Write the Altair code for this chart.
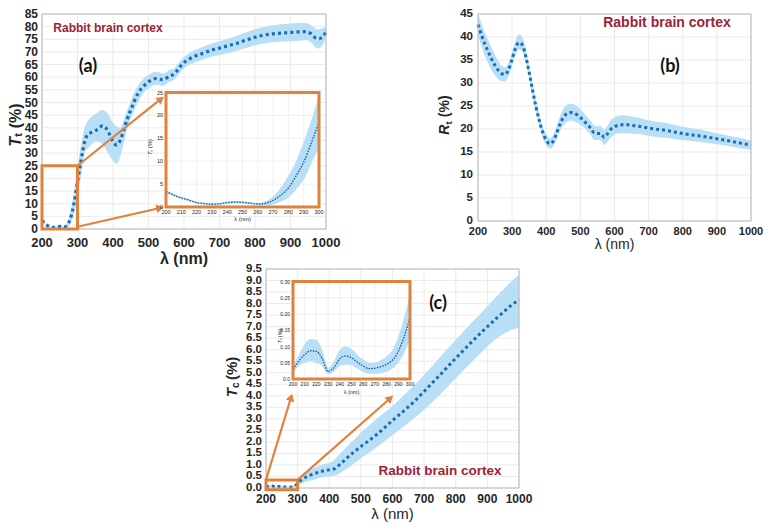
import math
import altair as alt
import pandas as pd

# ---------------- data ----------------
# (a) total transmittance T_t (%)
ta_wl = [200, 210, 220, 230, 240, 250, 260, 270, 280, 290, 300, 310, 320, 330, 340, 350, 360, 370, 380, 390,
         400, 410, 420, 430, 440, 450, 460, 470, 480, 490, 500, 510, 520, 530, 540, 550, 560, 570, 580, 590,
         600, 610, 620, 640, 660, 680, 700, 720, 740, 760, 780, 800, 820, 840, 860, 880, 900, 920, 940, 950,
         960, 970, 980, 990, 1000]
ta_mean = [3.4, 2.0, 0.95, 0.6, 0.95, 1.0, 0.65, 1.4, 4.2, 10.0, 18.6, 27.0, 34.5, 37.5, 38.2, 38.8, 39.8, 40.8, 40.0, 37.5,
           34.5, 33.2, 35.0, 39.0, 43.5, 47.0, 50.5, 53.5, 55.5, 57.0, 58.2, 59.0, 59.5, 59.4, 59.0, 59.6, 60.6, 61.0, 62.5, 64.3,
           65.8, 66.8, 67.6, 68.8, 69.8, 70.8, 71.5, 72.3, 73.0, 74.0, 74.9, 75.8, 76.5, 77.0, 77.3, 77.5, 77.7, 77.9, 78.0, 77.8,
           77.0, 75.6, 75.2, 76.0, 77.8]
ta_lo = [3.0, 1.7, 0.7, 0.4, 0.7, 0.8, 0.4, 0.6, 2.0, 6.0, 13.0, 21.0, 30.0, 32.0, 33.5, 34.5, 34.5, 33.5, 31.5, 29.0,
         27.0, 25.8, 28.5, 34.0, 39.5, 43.5, 47.0, 50.0, 52.5, 54.5, 55.5, 56.5, 57.0, 57.0, 56.5, 57.3, 58.3, 58.8, 60.3, 62.0,
         63.5, 64.5, 65.2, 66.3, 67.3, 68.2, 68.8, 69.5, 70.1, 71.0, 71.8, 72.6, 73.2, 73.6, 73.9, 74.0, 74.2, 74.4, 74.6, 74.5,
         73.5, 71.8, 71.4, 72.5, 76.0]
ta_hi = [3.8, 2.3, 1.2, 0.8, 1.2, 1.3, 0.9, 2.2, 6.8, 14.2, 24.5, 33.0, 40.0, 43.0, 44.5, 45.5, 46.5, 47.0, 46.5, 44.5,
         42.0, 40.5, 40.0, 43.0, 47.0, 50.5, 54.0, 56.5, 58.5, 60.0, 61.0, 61.8, 62.2, 62.0, 61.5, 62.0, 63.0, 63.3, 64.8, 66.5,
         68.0, 69.0, 70.0, 71.3, 72.3, 73.4, 74.2, 75.1, 75.9, 77.0, 78.0, 79.0, 79.8, 80.4, 80.7, 81.0, 81.2, 81.4, 81.4, 81.1,
         80.4, 79.3, 78.9, 79.5, 79.6]

# (b) total reflectance R_t (%)
rb_wl = [200, 210, 220, 230, 240, 250, 260, 270, 280, 290, 300, 310, 320, 330, 340, 350, 360, 370, 380, 390,
         400, 410, 420, 430, 440, 450, 460, 470, 480, 490, 500, 510, 520, 530, 540, 550, 560, 570, 580, 590,
         600, 610, 620, 640, 660, 680, 700, 750, 800, 850, 900, 950, 1000]
rb_mean = [42.7, 40.5, 38.5, 36.8, 35.2, 33.8, 32.7, 32.0, 31.9, 33.0, 35.2, 37.6, 38.8, 38.3, 35.8, 32.3, 28.4, 24.8, 21.7, 19.2,
           17.6, 16.8, 17.3, 19.0, 21.0, 22.5, 23.3, 23.6, 23.5, 23.1, 22.5, 21.8, 21.0, 20.2, 19.2, 19.0, 19.0, 18.2, 19.0, 20.0,
           20.5, 20.8, 20.9, 20.9, 20.7, 20.5, 20.2, 19.7, 19.0, 18.5, 17.9, 17.2, 16.5]
rb_lo = [40.3, 38.0, 36.0, 34.2, 32.8, 31.6, 30.8, 30.4, 30.4, 31.6, 33.8, 36.2, 37.3, 36.8, 34.4, 31.0, 27.2, 23.6, 20.6, 18.0,
         16.4, 15.7, 16.2, 17.7, 19.5, 20.8, 21.5, 21.8, 21.7, 21.4, 20.9, 20.3, 19.6, 18.8, 17.6, 17.6, 17.5, 16.6, 17.3, 18.2,
         18.8, 19.0, 19.1, 19.1, 18.9, 18.8, 18.5, 18.1, 17.6, 17.2, 16.7, 16.1, 15.5]
rb_hi = [45.2, 43.0, 41.0, 39.3, 37.6, 36.1, 34.7, 33.7, 33.4, 34.5, 36.7, 39.2, 40.6, 40.0, 37.4, 33.7, 29.7, 26.1, 23.0, 20.5,
         18.9, 18.0, 18.6, 20.5, 22.7, 24.4, 25.2, 25.5, 25.4, 25.0, 24.3, 23.5, 22.6, 21.8, 20.8, 20.6, 20.6, 19.8, 20.8, 22.0,
         22.5, 22.8, 23.0, 22.9, 22.6, 22.3, 21.9, 21.3, 20.5, 19.9, 19.1, 18.3, 17.5]

# (c) collimated transmittance T_c (%)
tc_wl = [200, 210, 220, 230, 240, 250, 260, 270, 280, 290, 300, 310, 320, 330, 340, 350, 360, 370, 380, 390,
         400, 410, 420, 430, 440, 450, 460, 470, 480, 490, 500, 525, 550, 575, 600, 625, 650, 675, 700, 725,
         750, 775, 800, 825, 850, 875, 900, 925, 950, 975, 1000]
tc_mean = [0.03, 0.075, 0.085, 0.023, 0.062, 0.065, 0.040, 0.033, 0.045, 0.085, 0.19, 0.33, 0.42, 0.50, 0.56, 0.61, 0.66, 0.71, 0.74, 0.77,
           0.79, 0.81, 0.86, 0.98, 1.10, 1.22, 1.35, 1.47, 1.58, 1.69, 1.80, 2.05, 2.32, 2.62, 2.93, 3.22, 3.52, 3.84, 4.19, 4.55,
           4.90, 5.27, 5.63, 5.98, 6.33, 6.67, 7.00, 7.32, 7.62, 7.92, 8.17]
tc_lo = [0.02, 0.05, 0.05, 0.015, 0.04, 0.04, 0.02, 0.015, 0.02, 0.05, 0.12, 0.18, 0.23, 0.28, 0.32, 0.36, 0.40, 0.44, 0.47, 0.50,
         0.50, 0.52, 0.55, 0.62, 0.70, 0.79, 0.88, 0.97, 1.08, 1.18, 1.29, 1.52, 1.77, 2.03, 2.30, 2.56, 2.82, 3.10, 3.39, 3.72,
         4.05, 4.40, 4.76, 5.11, 5.45, 5.80, 6.14, 6.45, 6.68, 6.85, 6.94]
tc_hi = [0.04, 0.11, 0.12, 0.035, 0.09, 0.09, 0.06, 0.05, 0.07, 0.13, 0.26, 0.48, 0.61, 0.72, 0.80, 0.86, 0.92, 0.98, 1.02, 1.05,
         1.08, 1.15, 1.28, 1.42, 1.56, 1.70, 1.84, 1.98, 2.12, 2.26, 2.40, 2.70, 3.00, 3.27, 3.55, 3.88, 4.22, 4.56, 4.90, 5.28,
         5.67, 6.05, 6.43, 6.80, 7.17, 7.52, 7.88, 8.25, 8.60, 8.95, 9.25]

# insets (200-300 nm zoom)
in_wl = [200, 205, 210, 215, 220, 225, 230, 235, 240, 245, 250, 255, 260, 265, 270, 275, 280, 285, 290, 295, 300]
ia_mean = [3.4, 2.6, 2.0, 1.5, 0.95, 0.75, 0.6, 0.7, 0.95, 1.05, 1.0, 0.85, 0.65, 0.8, 1.45, 2.6, 4.15, 6.8, 9.8, 14.0, 18.6]
ia_lo = [3.1, 2.35, 1.75, 1.25, 0.75, 0.55, 0.4, 0.5, 0.7, 0.8, 0.75, 0.6, 0.45, 0.35, 0.55, 1.2, 2.0, 3.8, 6.0, 9.5, 13.0]
ia_hi = [3.7, 2.85, 2.25, 1.75, 1.15, 0.95, 0.8, 0.9, 1.2, 1.3, 1.25, 1.1, 0.85, 1.25, 2.3, 4.2, 6.8, 10.0, 14.2, 19.0, 24.5]
ic_mean = [0.030, 0.055, 0.075, 0.087, 0.085, 0.062, 0.023, 0.035, 0.062, 0.071, 0.065, 0.052, 0.040, 0.032, 0.033, 0.038,
           0.045, 0.058, 0.085, 0.13, 0.19]
ic_lo = [0.022, 0.04, 0.05, 0.055, 0.05, 0.04, 0.015, 0.022, 0.04, 0.045, 0.042, 0.032, 0.022, 0.016, 0.016, 0.018,
         0.022, 0.032, 0.05, 0.08, 0.12]
ic_hi = [0.04, 0.075, 0.108, 0.123, 0.12, 0.09, 0.035, 0.055, 0.09, 0.10, 0.092, 0.075, 0.06, 0.05, 0.05, 0.058,
         0.07, 0.09, 0.13, 0.19, 0.26]

x_ticks = [200, 300, 400, 500, 600, 700, 800, 900, 1000]
ya_ticks = list(range(0, 86, 5))
yb_ticks = list(range(0, 46, 5))
yc_ticks = [round(i * 0.5, 1) for i in range(20)]
yc_labels = ["%.1f" % v for v in yc_ticks]
in_x_ticks = list(range(200, 301, 10))
ia_y_ticks = [0, 5, 10, 15, 20, 25]
ic_y_ticks = [0, 0.05, 0.10, 0.15, 0.20, 0.25, 0.30]
ic_y_labels = ["0.0", "0.05", "0.10", "0.15", "0.20", "0.25", "0.30"]

# ---------------- style ----------------
W, H = 755, 514
BAND = "#b8dff6"
LINE = "#176db6"
GRID = "#e6e6e6"
FRAME = "#b8b8b8"
ORANGE = "#e0823d"
RED = "#9b2335"
TXT = "#262626"
FONT = "Liberation Sans"

# plot-area geometry in canvas pixels: (domain, range)
GA = dict(xd=[200, 1000], xr=[34, 318], yd=[0, 85], yr=[221, 6])
GB = dict(xd=[200, 1000], xr=[470, 743], yd=[0, 45], yr=[213, 6])
GC = dict(xd=[200, 1000], xr=[258, 511], yd=[0, 9.5], yr=[480, 261])
GIA = dict(xd=[200, 300], xr=[158, 311], yd=[0, 25], yr=[199, 84.5])
GIC = dict(xd=[200, 300], xr=[285, 402], yd=[0, 0.30], yr=[371, 273.5])


def scales(g):
    xs = alt.Scale(domain=g["xd"], range=g["xr"], zero=False, nice=False)
    ys = alt.Scale(domain=g["yd"], range=g["yr"], zero=False, nice=False)
    return xs, ys


def lin(d, r, v):
    return r[0] + (v - d[0]) / (d[1] - d[0]) * (r[1] - r[0])


def inv(d, r, p):
    return d[0] + (p - r[0]) / (r[1] - r[0]) * (d[1] - d[0])


def ticklabels(g, xs, ys, xticks, xlabels, yticks, ylabels, xsize, ysize, xpad, ypad, weight):
    dx = pd.DataFrame({"v": xticks, "a": g["yd"][0], "lab": xlabels})
    dy = pd.DataFrame({"v": yticks, "a": g["xd"][0], "lab": ylabels})
    return [
        alt.Chart(dx).mark_text(align="center", baseline="top", dy=xpad, font=FONT, fontSize=xsize,
                                fontWeight=weight, color=TXT).encode(
            x=alt.X("v:Q", scale=xs, axis=None), y=alt.Y("a:Q", scale=ys, axis=None), text="lab:N"),
        alt.Chart(dy).mark_text(align="right", baseline="middle", dx=-ypad, font=FONT, fontSize=ysize,
                                fontWeight=weight, color=TXT).encode(
            x=alt.X("a:Q", scale=xs, axis=None), y=alt.Y("v:Q", scale=ys, axis=None), text="lab:N"),
    ]


def panel(g, wl, mean, lo, hi, xticks, yticks, labs, lw, dash, lcolor, gw, extra=(), inset=False):
    xs, ys = scales(g)
    df = pd.DataFrame({"x": wl, "y": mean, "lo": lo, "hi": hi})
    gx = pd.DataFrame({"v": xticks, "a": g["yd"][0], "b": g["yd"][1]})
    gy = pd.DataFrame({"v": yticks, "a": g["xd"][0], "b": g["xd"][1]})
    one = pd.DataFrame({"x0": [g["xd"][0]], "x1": [g["xd"][1]], "y0": [g["yd"][0]], "y1": [g["yd"][1]]})
    layers = []
    if inset:
        layers.append(alt.Chart(one).mark_rect(fill="white", stroke="white", strokeWidth=3).encode(
            x=alt.X("x0:Q", scale=xs, axis=None), x2="x1:Q",
            y=alt.Y("y0:Q", scale=ys, axis=None), y2="y1:Q"))
    layers.append(alt.Chart(gx).mark_rule(color=GRID, strokeWidth=gw).encode(
        x=alt.X("v:Q", scale=xs, axis=None), y=alt.Y("a:Q", scale=ys, axis=None), y2="b:Q"))
    layers.append(alt.Chart(gy).mark_rule(color=GRID, strokeWidth=gw).encode(
        y=alt.Y("v:Q", scale=ys, axis=None), x=alt.X("a:Q", scale=xs, axis=None), x2="b:Q"))
    layers.append(alt.Chart(df).mark_area(color=BAND, opacity=1, interpolate="monotone").encode(
        x=alt.X("x:Q", scale=xs, axis=None), y=alt.Y("lo:Q", scale=ys, axis=None), y2="hi:Q"))
    layers.append(alt.Chart(df).mark_line(color=lcolor, strokeWidth=lw, strokeDash=dash, strokeCap="butt",
                                          interpolate="monotone").encode(
        x=alt.X("x:Q", scale=xs, axis=None), y=alt.Y("y:Q", scale=ys, axis=None)))
    if inset:
        layers.append(alt.Chart(one).mark_rect(fillOpacity=0, stroke=ORANGE, strokeWidth=3).encode(
            x=alt.X("x0:Q", scale=xs, axis=None), x2="x1:Q",
            y=alt.Y("y0:Q", scale=ys, axis=None), y2="y1:Q"))
    else:
        layers.append(alt.Chart(one).mark_rect(fillOpacity=0, stroke=FRAME, strokeWidth=1).encode(
            x=alt.X("x0:Q", scale=xs, axis=None), x2="x1:Q",
            y=alt.Y("y0:Q", scale=ys, axis=None), y2="y1:Q"))
    layers.extend(ticklabels(g, xs, ys, **labs))
    for f in extra:
        layers.extend(f(xs, ys))
    return alt.layer(*layers)


def zoombox(g, x0, x1, y0, y1):
    def f(xs, ys):
        d = pd.DataFrame({"x0": [x0], "x1": [x1], "y0": [y0], "y1": [y1]})
        return [alt.Chart(d).mark_rect(fillOpacity=0, stroke=ORANGE, strokeWidth=3).encode(
            x=alt.X("x0:Q", scale=xs, axis=None), x2="x1:Q",
            y=alt.Y("y0:Q", scale=ys, axis=None), y2="y1:Q")]
    return f


def arrows(g, starts, tips, gt):
    """starts in data units of panel g; tips in data units of inset gt."""
    def f(xs, ys):
        lines, heads = [], []
        for (sx, sy), (tx, ty) in zip(starts, tips):
            p0 = (lin(g["xd"], g["xr"], sx), lin(g["yd"], g["yr"], sy))
            p1 = (lin(gt["xd"], gt["xr"], tx), lin(gt["yd"], gt["yr"], ty))
            dx, dy = p1[0] - p0[0], p1[1] - p0[1]
            L = math.hypot(dx, dy)
            ux, uy = dx / L, dy / L
            hx, hy = p1[0] - ux * 4.5, p1[1] - uy * 4.5
            ang = math.degrees(math.atan2(ux, -uy)) % 360
            hxd, hyd = inv(g["xd"], g["xr"], hx), inv(g["yd"], g["yr"], hy)
            lines.append({"x0": sx, "y0": sy, "x1": hxd, "y1": hyd})
            heads.append({"x": hxd, "y": hyd, "ang": ang})
        ld = pd.DataFrame(lines)
        hd = pd.DataFrame(heads)
        return [
            alt.Chart(ld).mark_rule(color=ORANGE, strokeWidth=2.2).encode(
                x=alt.X("x0:Q", scale=xs, axis=None), y=alt.Y("y0:Q", scale=ys, axis=None),
                x2="x1:Q", y2="y1:Q"),
            alt.Chart(hd).mark_point(shape="triangle-up", filled=True, color=ORANGE, opacity=1, size=75,
                                     strokeWidth=0).encode(
                x=alt.X("x:Q", scale=xs, axis=None), y=alt.Y("y:Q", scale=ys, axis=None),
                angle=alt.Angle("ang:Q", scale=None)),
        ]
    return f


def txt(s, x, y, size, color=TXT, weight="bold", font=FONT, angle=0, align="center",
        baseline="middle", style="normal"):
    return alt.Chart(alt.Data(values=[{}])).mark_text(
        text=s, fontSize=size, font=font, fontWeight=weight, color=color, angle=angle,
        align=align, baseline=baseline, fontStyle=style).encode(x=alt.value(x), y=alt.value(y))


def ytitle(main, sub, cx, cy, size, weight="bold", wmain=0.62, subshift=0.26):
    wT = wmain * size
    ss = 0.68 * size
    wsub = 0.36 * ss
    gap = 0.28 * size
    wp = 1.56 * size
    total = wT + wsub + gap + wp
    y0 = cy + total / 2
    return [
        txt(main, cx, y0, size, angle=270, align="left", style="italic", weight=weight),
        txt(sub, cx + subshift * size, y0 - wT, ss, angle=270, align="left", weight=weight),
        txt("(%)", cx, y0 - wT - wsub - gap, size, angle=270, align="left", weight=weight),
    ]


def xlab(g, s, dy, size, weight="bold"):
    cx = (g["xr"][0] + g["xr"][1]) / 2
    return txt(s, cx, g["yr"][0] + dy, size, weight=weight)


# ---------------- panels ----------------
pa = panel(GA, ta_wl, ta_mean, ta_lo, ta_hi, x_ticks, ya_ticks,
           dict(xticks=x_ticks, xlabels=[str(v) for v in x_ticks], yticks=ya_ticks,
                ylabels=[str(v) for v in ya_ticks], xsize=13, ysize=12, xpad=8, ypad=4, weight="bold"),
           3.2, [3, 3.2], LINE, 0.8,
           extra=[zoombox(GA, 200, 300, 0, 25),
                  arrows(GA, [(300, 25), (300, 0.9)], [(199, 24.2), (199, 0.0)], GIA)])
pb = panel(GB, rb_wl, rb_mean, rb_lo, rb_hi, x_ticks, yb_ticks,
           dict(xticks=x_ticks, xlabels=[str(v) for v in x_ticks], yticks=yb_ticks,
                ylabels=[str(v) for v in yb_ticks], xsize=11, ysize=11.5, xpad=5, ypad=5, weight="bold"),
           3.0, [3, 3], LINE, 0.8)
pc = panel(GC, tc_wl, tc_mean, tc_lo, tc_hi, x_ticks, yc_ticks,
           dict(xticks=x_ticks, xlabels=[str(v) for v in x_ticks], yticks=yc_ticks,
                ylabels=yc_labels, xsize=12, ysize=11.5, xpad=6, ypad=4, weight="bold"),
           3.0, [3, 3], LINE, 0.8,
           extra=[zoombox(GC, 200, 300, -0.08, 0.35),
                  arrows(GC, [(200, 0.35), (300, 0.35)], [(199.5, -0.043), (286, -0.05)], GIC)])

pia = panel(GIA, in_wl, ia_mean, ia_lo, ia_hi, in_x_ticks, ia_y_ticks,
            dict(xticks=in_x_ticks, xlabels=[str(v) for v in in_x_ticks], yticks=ia_y_ticks,
                 ylabels=[str(v) for v in ia_y_ticks], xsize=5.5, ysize=5.5, xpad=3, ypad=3, weight="normal"),
            1.3, [1.6, 1.2], "#1d5fa6", 0.6, inset=True)
pic = panel(GIC, in_wl, ic_mean, ic_lo, ic_hi, in_x_ticks, ic_y_ticks,
            dict(xticks=in_x_ticks, xlabels=[str(v) for v in in_x_ticks], yticks=ic_y_ticks,
                 ylabels=ic_y_labels, xsize=5, ysize=5, xpad=3, ypad=3, weight="normal"),
            1.3, [1.6, 1.2], "#1d5fa6", 0.6, inset=True)

texts = []
texts += ytitle("T", "t", 8, 117, 16, subshift=0.2)
texts += ytitle("R", "t", 437, 107, 14, wmain=0.72)
texts += ytitle("T", "c", 224, 369, 15)
texts += ytitle("T", "t", 142, 139, 6, weight="normal")
texts += ytitle("T", "c", 272, 328, 5.5, weight="normal")
texts += [
    xlab(GA, "λ (nm)", 29.5, 16),
    xlab(GB, "λ (nm)", 24, 14, weight="normal"),
    xlab(GC, "λ (nm)", 26, 15, weight="normal"),
    xlab(GIA, "λ (nm)", 12, 6, weight="normal"),
    xlab(GIC, "λ (nm)", 13, 5.5, weight="normal"),
    txt("Rabbit brain cortex", 100, 20, 12, color=RED),
    txt("Rabbit brain cortex", 659, 15, 14, color=RED),
    txt("Rabbit brain cortex", 432, 463, 13.5, color=RED),
    txt("(a)", 80, 59, 18, font="Lato", color="#111111"),
    txt("(b)", 662, 59, 18, font="Lato", color="#111111"),
    txt("(c)", 430, 296, 18, font="Lato", color="#111111"),
]

chart = alt.layer(pa, pb, pc, pia, pic, *texts).resolve_scale(
    x="independent", y="independent"
).properties(
    width=W, height=H, autosize=alt.AutoSizeParams(type="none"), padding=0, background="white"
).configure_view(stroke=None)

chart.save("out.html", embed_options={"renderer": "svg", "actions": False})
